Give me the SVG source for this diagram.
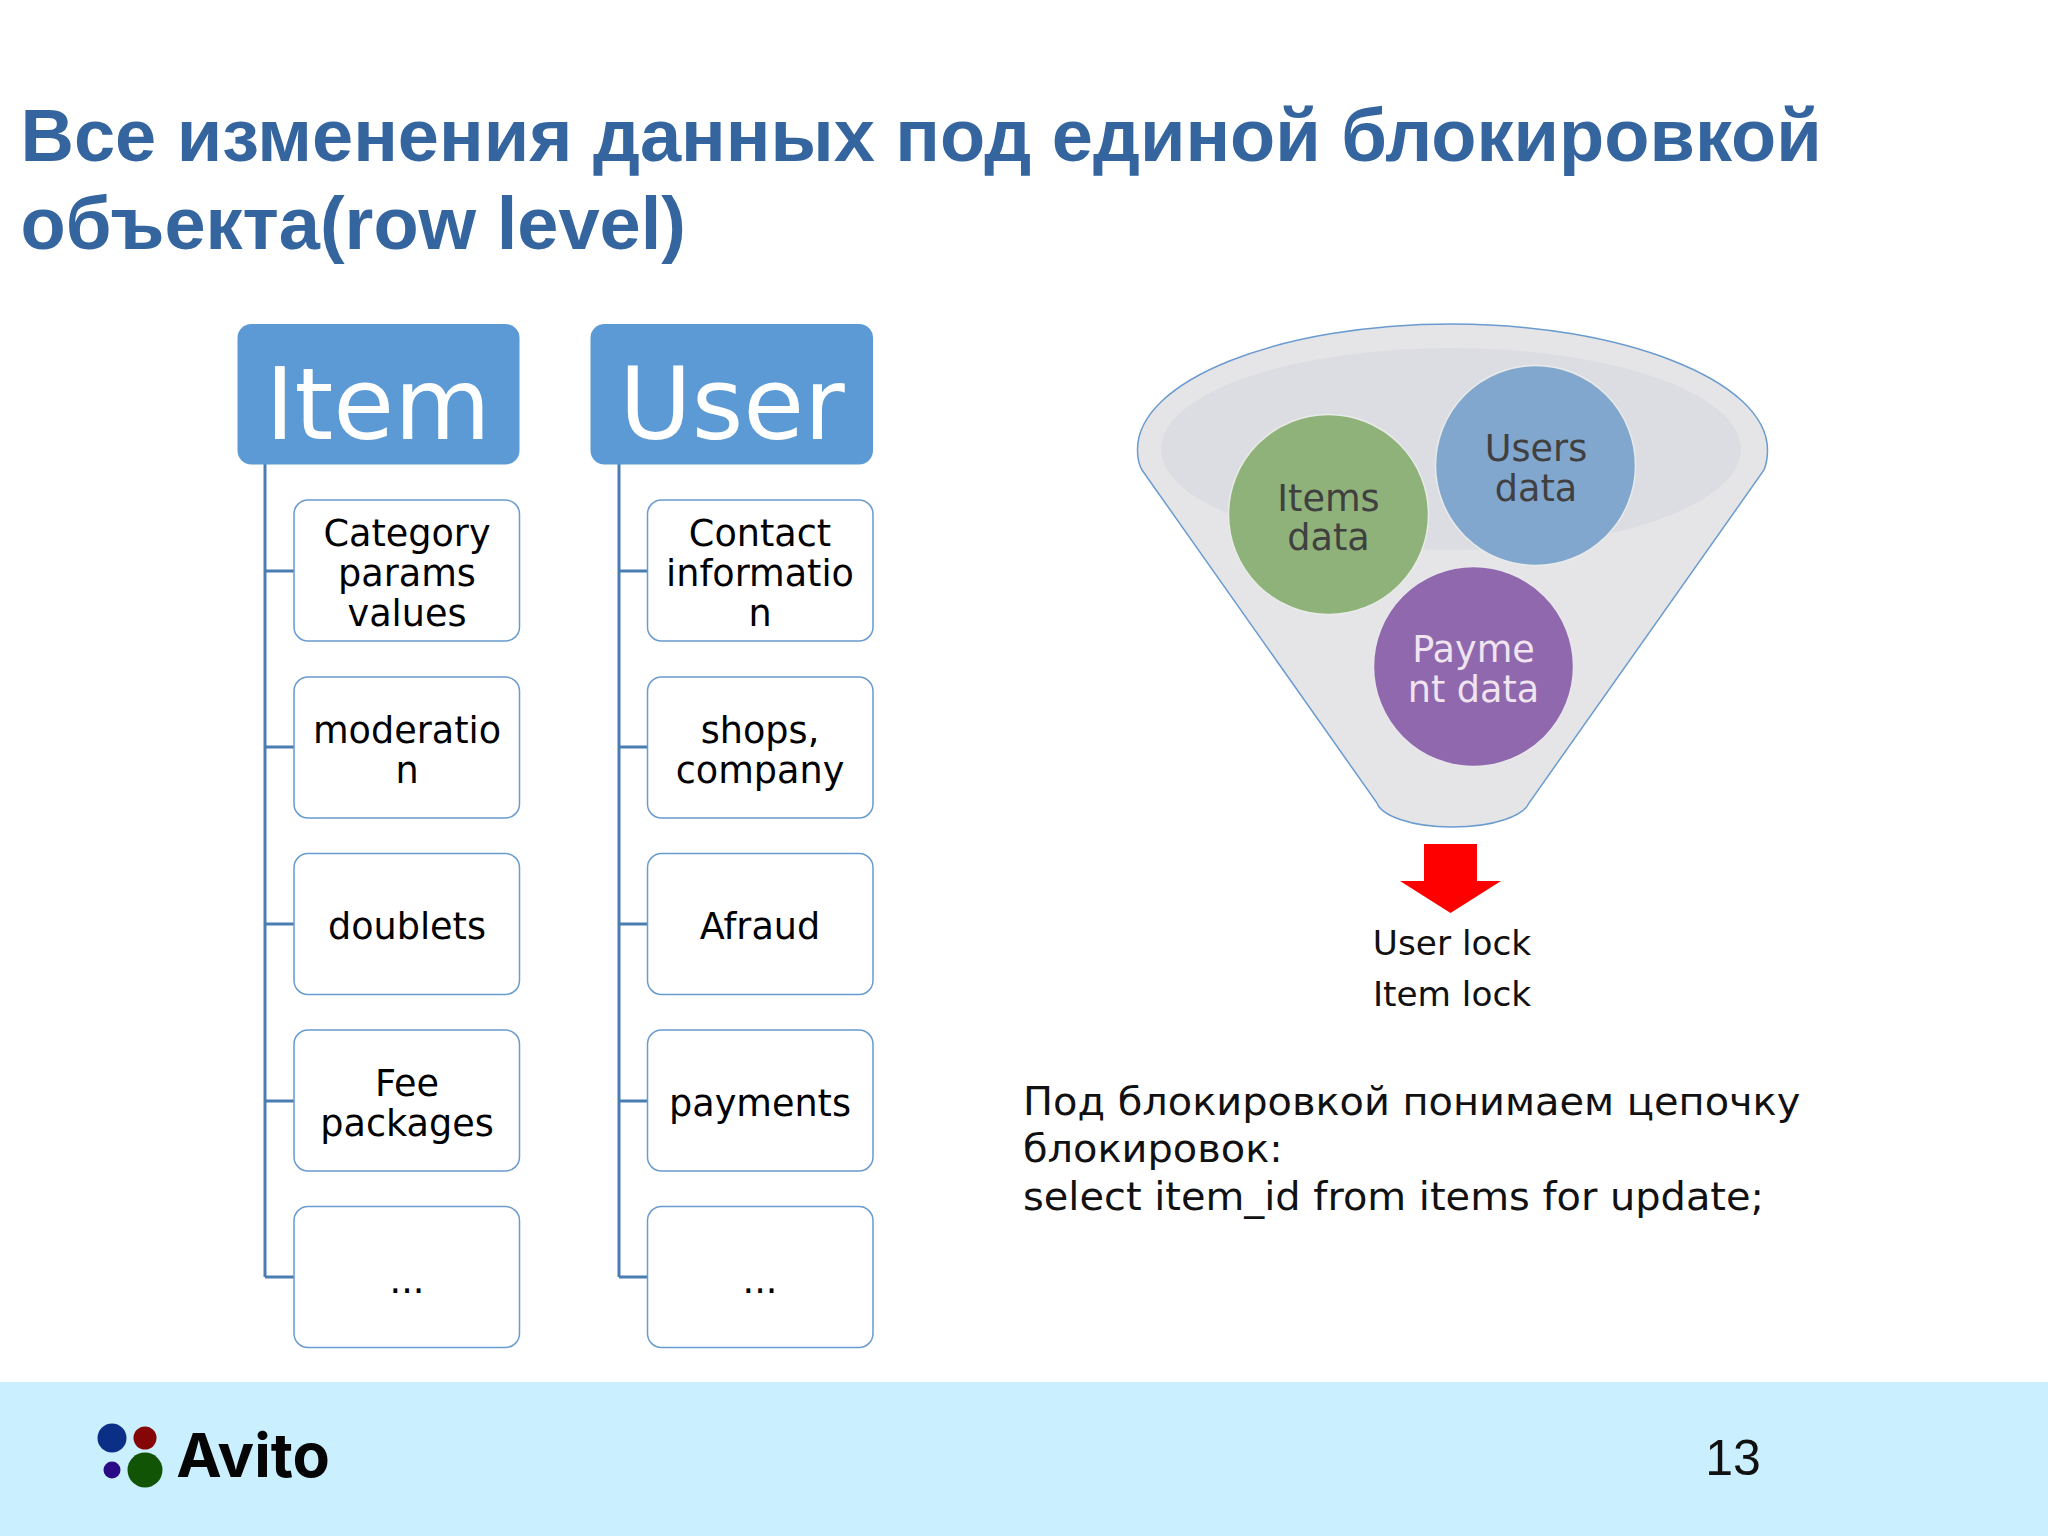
<svg xmlns="http://www.w3.org/2000/svg" width="2048" height="1536" viewBox="0 0 2048 1536">
<style>
text{font-family:"DejaVu Sans",sans-serif;text-anchor:middle}
.head{fill:#5b9ad5}
.hl{font-size:99px;fill:#fff}
.child{fill:#fff;stroke:#6a9bcf;stroke-width:1.5}
.cl{font-size:36.6px;fill:#000}
.conn{fill:none;stroke:#4a7eb3;stroke-width:3}
.fl{font-size:36.6px;fill:#404040}
.title{font-family:"Liberation Sans",Arial,sans-serif;font-weight:700;font-size:74px;fill:#35659f;text-anchor:start}
.para{font-size:39.9px;fill:#111;text-anchor:start}
</style>
<rect width="2048" height="1536" fill="#fff"/>
<g id="title"><text class="title" x="20.500" y="161">Все изменения данных под единой блокировкой</text><text class="title" x="20.500" y="249">объекта(row level)</text></g>
<g id="connectors">
<path class="conn" d="M265 464V1277M265 571H294M265 747H294M265 924H294M265 1101H294M265 1277H294"/>
<path class="conn" d="M619 464V1277M619 571H648M619 747H648M619 924H648M619 1101H648M619 1277H648"/>
</g>
<g id="item-head"><rect class="head" x="237.500" y="324" width="282" height="140.500" rx="14"/><text class="hl" x="378" y="438.500">Item</text></g>
<g id="user-head"><rect class="head" x="590.500" y="324" width="282.500" height="140.500" rx="14"/><text class="hl" x="732" y="438.500">User</text></g>
<g id="item-1"><rect class="child" x="294" y="500" width="225.500" height="141" rx="14"/><text class="cl" x="407" y="546">Category</text><text class="cl" x="407" y="586">params</text><text class="cl" x="407" y="626">values</text></g>
<g id="item-2"><rect class="child" x="294" y="677" width="225.500" height="141" rx="14"/><text class="cl" x="407" y="743">moderatio</text><text class="cl" x="407" y="783">n</text></g>
<g id="item-3"><rect class="child" x="294" y="853.500" width="225.500" height="141" rx="14"/><text class="cl" x="407" y="939">doublets</text></g>
<g id="item-4"><rect class="child" x="294" y="1030" width="225.500" height="141" rx="14"/><text class="cl" x="407" y="1096">Fee</text><text class="cl" x="407" y="1136">packages</text></g>
<g id="item-5"><rect class="child" x="294" y="1206.500" width="225.500" height="141" rx="14"/><text class="cl" x="407" y="1293">...</text></g>
<g id="user-1"><rect class="child" x="647.500" y="500" width="225.500" height="141" rx="14"/><text class="cl" x="760" y="546">Contact</text><text class="cl" x="760" y="586">informatio</text><text class="cl" x="760" y="626">n</text></g>
<g id="user-2"><rect class="child" x="647.500" y="677" width="225.500" height="141" rx="14"/><text class="cl" x="760" y="743">shops,</text><text class="cl" x="760" y="783">company</text></g>
<g id="user-3"><rect class="child" x="647.500" y="853.500" width="225.500" height="141" rx="14"/><text class="cl" x="760" y="939">Afraud</text></g>
<g id="user-4"><rect class="child" x="647.500" y="1030" width="225.500" height="141" rx="14"/><text class="cl" x="760" y="1116">payments</text></g>
<g id="user-5"><rect class="child" x="647.500" y="1206.500" width="225.500" height="141" rx="14"/><text class="cl" x="760" y="1293">...</text></g>
<g id="funnel">
<path d="M1452 324C1280 324 1137 380 1137.500 450C1137.500 460 1139 465 1142 470L1377 803C1381 815 1410 827 1452 827C1496 827 1524 815 1529 803L1764 470C1766 465 1767.500 460 1767.500 450C1767.500 380 1620 324 1452 324Z" fill="#e5e5e8" stroke="#6a9bcf" stroke-width="1.500"/>
<ellipse cx="1451" cy="449" rx="290" ry="101" fill="#dcdde2"/>
</g>
<g id="items-data"><circle cx="1328.500" cy="514.500" r="100" fill="#8fb27a" stroke="#e8ebe8" stroke-width="1.500"/><text class="fl" x="1328.500" y="511">Items</text><text class="fl" x="1328.500" y="550">data</text></g>
<g id="users-data"><circle cx="1535.500" cy="465.500" r="100" fill="#82a7ce" stroke="#e8ebe8" stroke-width="1.500"/><text class="fl" x="1536" y="461">Users</text><text class="fl" x="1536" y="501">data</text></g>
<g id="payment-data"><circle cx="1473.500" cy="666.500" r="100" fill="#8f68ad" stroke="#e8e6ea" stroke-width="1.500"/><text class="fl" x="1473.500" y="662" style="fill:#f0e4f0">Payme</text><text class="fl" x="1473.500" y="702" style="fill:#f0e4f0">nt data</text></g>
<g id="arrow"><path d="M1424 844H1477V881H1501L1450.500 913L1400 881H1424Z" fill="#fe0000"/></g>
<g id="lock-labels"><text x="1452" y="955" font-size="34.300" fill="#111">User lock</text><text x="1452" y="1006" font-size="34.300" fill="#111">Item lock</text></g>
<g id="description"><text class="para" x="1023" y="1115">Под блокировкой понимаем цепочку</text><text class="para" x="1023" y="1162">блокировок:</text><text class="para" x="1023" y="1210">select item_id from items for update;</text></g>
<g id="footer">
<rect x="0" y="1382" width="2048" height="154" fill="#caefff"/>
<circle cx="112" cy="1438" r="14.500" fill="#0b2e87"/><circle cx="145" cy="1438" r="11.500" fill="#850606"/><circle cx="112" cy="1470" r="8.500" fill="#2b0a85"/><circle cx="145" cy="1470" r="17.500" fill="#115406"/>
<text x="253" y="1477" style="font-family:Inter,sans-serif;font-weight:700;font-size:61px;fill:#050505">Avito</text>
<text x="1733" y="1475" style="font-family:'Liberation Sans',Arial,sans-serif;font-size:50px;fill:#111">13</text>
</g>
</svg>
